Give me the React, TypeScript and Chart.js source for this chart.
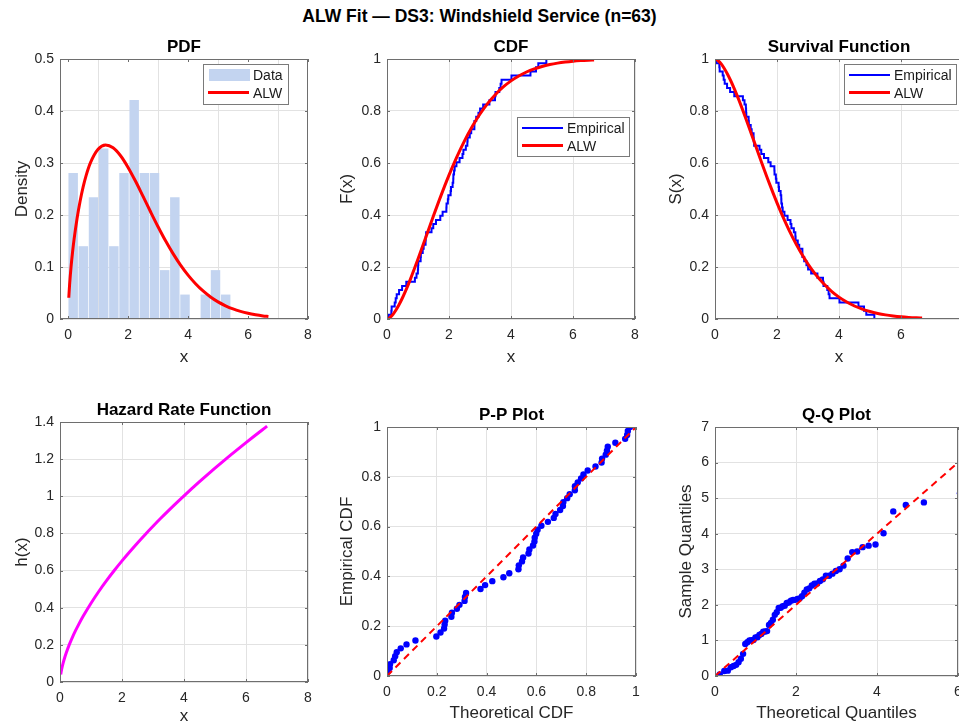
import React, { useEffect, useRef } from 'react';
import { Chart, registerables } from 'chart.js';

Chart.register(...registerables);

const FONT = '"Liberation Sans", Arial, Helvetica, sans-serif';

// ---------- data ----------
const sortedData = [
  0.046, 0.140, 0.150, 0.248, 0.280, 0.313, 0.389, 0.487, 0.622, 0.900,
  0.952, 0.996, 1.003, 1.010, 1.085, 1.092, 1.152, 1.183, 1.244, 1.249,
  1.262, 1.436, 1.492, 1.580, 1.719, 1.794, 1.915, 1.920, 1.963, 1.978,
  2.053, 2.065, 2.117, 2.137, 2.141, 2.163, 2.183, 2.240, 2.341, 2.435,
  2.464, 2.543, 2.592, 2.600, 2.670, 2.717, 2.819, 2.820, 2.878, 2.950,
  3.003, 3.102, 3.304, 3.483, 3.500, 3.622, 3.665, 3.695, 4.015, 4.628,
  4.806, 4.881, 5.140,
];

const histCenters = [0.1695, 0.5085, 0.8475, 1.1865, 1.5255, 1.8645, 2.2035, 2.5425, 2.8815, 3.2205, 3.5595, 3.8985, 4.2375, 4.5765, 4.9155, 5.2545];
const histDensity = [0.281, 0.140, 0.234, 0.328, 0.140, 0.281, 0.421, 0.281, 0.281, 0.094, 0.234, 0.047, 0, 0.047, 0.094, 0.047];

const curveX = [0.023, 0.05, 0.1, 0.15, 0.2, 0.3, 0.4, 0.5, 0.6, 0.75, 1.0, 1.25, 1.5, 1.75, 2.0, 2.25, 2.5, 2.75, 3.0, 3.25, 3.5, 3.75, 4.0, 4.25, 4.5, 4.75, 5.0, 5.25, 5.5, 5.75, 6.0, 6.25, 6.5, 6.68];
const pdfY = [0.0409, 0.0661, 0.1012, 0.1293, 0.1535, 0.1938, 0.2266, 0.2536, 0.2758, 0.3012, 0.3266, 0.3346, 0.3292, 0.3139, 0.2915, 0.2648, 0.2357, 0.2062, 0.1774, 0.1503, 0.1257, 0.1036, 0.0843, 0.0678, 0.0539, 0.0424, 0.0329, 0.0254, 0.0193, 0.0146, 0.0109, 0.0081, 0.0059, 0.0047];
const cdfY = [0.0006, 0.0020, 0.0063, 0.0120, 0.0191, 0.0366, 0.0576, 0.0817, 0.1082, 0.1516, 0.2305, 0.3135, 0.3967, 0.4773, 0.5531, 0.6227, 0.6853, 0.7405, 0.7884, 0.8294, 0.8638, 0.8925, 0.9159, 0.9348, 0.9500, 0.9620, 0.9714, 0.9786, 0.9842, 0.9884, 0.9916, 0.9939, 0.9956, 0.9966];
const survY = [0.9994, 0.9980, 0.9937, 0.9880, 0.9809, 0.9634, 0.9424, 0.9183, 0.8918, 0.8484, 0.7695, 0.6865, 0.6033, 0.5227, 0.4469, 0.3773, 0.3147, 0.2595, 0.2116, 0.1706, 0.1362, 0.1075, 0.0841, 0.0652, 0.0500, 0.0380, 0.0286, 0.0214, 0.0158, 0.0116, 0.0084, 0.0061, 0.0044, 0.0034];
const hazY = [0.0410, 0.0663, 0.1018, 0.1309, 0.1565, 0.2012, 0.2405, 0.2762, 0.3092, 0.3551, 0.4244, 0.4874, 0.5457, 0.6004, 0.6523, 0.7017, 0.7491, 0.7947, 0.8387, 0.8814, 0.9228, 0.9632, 1.0024, 1.0408, 1.0784, 1.1151, 1.1511, 1.1865, 1.2212, 1.2554, 1.2890, 1.3219, 1.3545, 1.3776];

const ppTheoretical = [
  0.0018, 0.0108, 0.0120, 0.0270, 0.0328, 0.0391, 0.0552, 0.0784, 0.1143, 0.1982,
  0.2149, 0.2292, 0.2315, 0.2338, 0.2585, 0.2608, 0.2807, 0.2911, 0.3115, 0.3131,
  0.3175, 0.3756, 0.3940, 0.4229, 0.4675, 0.4910, 0.5279, 0.5294, 0.5422, 0.5466,
  0.5684, 0.5718, 0.5865, 0.5921, 0.5932, 0.5993, 0.6047, 0.6200, 0.6463, 0.6697,
  0.6767, 0.6953, 0.7065, 0.7083, 0.7236, 0.7337, 0.7545, 0.7547, 0.7660, 0.7794,
  0.7890, 0.8060, 0.8374, 0.8617, 0.8638, 0.8785, 0.8833, 0.8866, 0.9171, 0.9565,
  0.9643, 0.9672, 0.9757,
];

const qqTheoretical = [
  0.1157, 0.2292, 0.3158, 0.3907, 0.4586, 0.5218, 0.5816, 0.6387, 0.6938, 0.7473,
  0.7994, 0.8504, 0.9007, 0.9501, 0.9990, 1.0473, 1.0954, 1.1431, 1.1908, 1.2382,
  1.2856, 1.3331, 1.3807, 1.4283, 1.4763, 1.5245, 1.5730, 1.6219, 1.6714, 1.7215,
  1.7720, 1.8231, 1.8750, 1.9278, 1.9813, 2.0360, 2.0917, 2.1485, 2.2068, 2.2663,
  2.3275, 2.3904, 2.4554, 2.5224, 2.5917, 2.6634, 2.7384, 2.8165, 2.8985, 2.9848,
  3.0759, 3.1728, 3.2766, 3.3883, 3.5100, 3.6438, 3.7933, 3.9630, 4.1612, 4.4017,
  4.7110, 5.1580, 6.0476,
];

const ppRefLine = [0, 1];
const qqRefLine = [0, 6.05];

const ticks0to8 = [0, 2, 4, 6, 8];
const pdfYTicks = [0, 0.1, 0.2, 0.3, 0.4, 0.5];
const unitTicks = [0, 0.2, 0.4, 0.6, 0.8, 1];
const hazYTicks = [0, 0.2, 0.4, 0.6, 0.8, 1, 1.2, 1.4];
const qqXTicks = [0, 2, 4, 6];
const qqYTicks = [0, 1, 2, 3, 4, 5, 6, 7];

// ---------- derived tables ----------
const n = sortedData.length;
const pts = (xs: number[], ys: number[]) => xs.map((x, i) => ({ x, y: ys[i] }));
const ecdfPts = [{ x: sortedData[0], y: 0 }, ...sortedData.map((x, i) => ({ x, y: (i + 1) / n }))];
const esurvPts = ecdfPts.map((p) => ({ x: p.x, y: 1 - p.y }));
const ppPts = ppTheoretical.map((x, i) => ({ x, y: (i + 1) / n }));
const qqPts = qqTheoretical.map((x, i) => ({ x, y: sortedData[i] }));

const RED = '#ff0000';
const BLUE = '#0000ff';
const MAGENTA = '#ff00ff';
const BAR = '#c3d4f0';

type LegendItem = { label: string; color: string; kind: 'line' | 'patch'; width?: number };
type Legend = { x: number; y: number; w: number; h: number; items: LegendItem[] };
type Panel = {
  key: string;
  box: { l: number; t: number; r: number; b: number };
  xMin: number; xMax: number; yMin: number; yMax: number;
  xTicks: number[]; yTicks: number[];
  title: string; xLabel: string; yLabel: string;
  xLabelBaseline: number; yLabelX: number;
  legend?: Legend;
  datasets: any[];
};

const curve = (ys: number[], color: string) => ({
  type: 'line', data: pts(curveX, ys), borderColor: color, backgroundColor: color,
  borderWidth: 3, pointRadius: 0, fill: false, showLine: true,
  cubicInterpolationMode: 'monotone', order: 0,
});

const panels: Panel[] = [
  {
    key: 'pdf', box: { l: 60, t: 59, r: 308, b: 319 },
    xMin: -0.27, xMax: 8, yMin: 0, yMax: 0.5, xTicks: ticks0to8, yTicks: pdfYTicks,
    title: 'PDF', xLabel: 'x', yLabel: 'Density', xLabelBaseline: 362, yLabelX: 22,
    legend: { x: 203, y: 64, w: 85, h: 40, items: [
      { label: 'Data', color: BAR, kind: 'patch' },
      { label: 'ALW', color: RED, kind: 'line', width: 3 },
    ] },
    datasets: [
      { type: 'bar', data: pts(histCenters, histDensity), backgroundColor: BAR, borderWidth: 0,
        barPercentage: 0.93, categoryPercentage: 1, order: 2 },
      curve(pdfY, RED),
    ],
  },
  {
    key: 'cdf', box: { l: 387, t: 59, r: 635, b: 319 },
    xMin: 0, xMax: 8, yMin: 0, yMax: 1, xTicks: ticks0to8, yTicks: unitTicks,
    title: 'CDF', xLabel: 'x', yLabel: 'F(x)', xLabelBaseline: 362, yLabelX: 347,
    legend: { x: 517, y: 117, w: 112, h: 39, items: [
      { label: 'Empirical', color: BLUE, kind: 'line', width: 2 },
      { label: 'ALW', color: RED, kind: 'line', width: 3 },
    ] },
    datasets: [
      { type: 'line', data: ecdfPts, stepped: true, borderColor: BLUE, borderWidth: 2, pointRadius: 0, fill: false, showLine: true, order: 1 },
      curve(cdfY, RED),
    ],
  },
  {
    key: 'surv', box: { l: 715, t: 59, r: 963, b: 319 },
    xMin: 0, xMax: 8, yMin: 0, yMax: 1, xTicks: ticks0to8, yTicks: unitTicks,
    title: 'Survival Function', xLabel: 'x', yLabel: 'S(x)', xLabelBaseline: 362, yLabelX: 676,
    legend: { x: 844, y: 64, w: 112, h: 40, items: [
      { label: 'Empirical', color: BLUE, kind: 'line', width: 2 },
      { label: 'ALW', color: RED, kind: 'line', width: 3 },
    ] },
    datasets: [
      { type: 'line', data: esurvPts, stepped: true, borderColor: BLUE, borderWidth: 2, pointRadius: 0, fill: false, showLine: true, order: 1 },
      curve(survY, RED),
    ],
  },
  {
    key: 'haz', box: { l: 60, t: 422, r: 308, b: 682 },
    xMin: 0, xMax: 8, yMin: 0, yMax: 1.4, xTicks: ticks0to8, yTicks: hazYTicks,
    title: 'Hazard Rate Function', xLabel: 'x', yLabel: 'h(x)', xLabelBaseline: 721, yLabelX: 22,
    datasets: [curve(hazY, MAGENTA)],
  },
  {
    key: 'pp', box: { l: 387, t: 427, r: 636, b: 676 },
    xMin: 0, xMax: 1, yMin: 0, yMax: 1, xTicks: unitTicks, yTicks: unitTicks,
    title: 'P-P Plot', xLabel: 'Theoretical CDF', yLabel: 'Empirical CDF', xLabelBaseline: 718, yLabelX: 347,
    datasets: [
      { type: 'line', data: pts(ppRefLine, ppRefLine), borderColor: RED, borderWidth: 2, borderDash: [7, 5], pointRadius: 0, fill: false, showLine: true, order: 0 },
      { type: 'scatter', data: ppPts, backgroundColor: BLUE, borderColor: BLUE, borderWidth: 0, pointRadius: 3.2, order: 1 },
    ],
  },
  {
    key: 'qq', box: { l: 715, t: 427, r: 958, b: 676 },
    xMin: 0, xMax: 6, yMin: 0, yMax: 7, xTicks: qqXTicks, yTicks: qqYTicks,
    title: 'Q-Q Plot', xLabel: 'Theoretical Quantiles', yLabel: 'Sample Quantiles', xLabelBaseline: 718, yLabelX: 686,
    datasets: [
      { type: 'line', data: pts(qqRefLine, qqRefLine), borderColor: RED, borderWidth: 2, borderDash: [7, 5], pointRadius: 0, fill: false, showLine: true, order: 0 },
      { type: 'scatter', data: qqPts, backgroundColor: BLUE, borderColor: BLUE, borderWidth: 0, pointRadius: 3.2, order: 1 },
    ],
  },
];

const ML = 60, MT = 45, MR = 12, MB = 50;

function scaleOpts(tickVals: number[], min: number, max: number, axis: 'x' | 'y', size: number) {
  return {
    type: 'linear', min, max, offset: false,
    grid: { color: '#e2e2e2', lineWidth: 1, drawTicks: false },
    border: { display: false },
    ticks: {
      color: '#262626', font: { family: FONT, size: 14 }, padding: axis === 'x' ? 8 : 6,
      autoSkip: false, maxRotation: 0, minRotation: 0,
      callback: (v: number) => String(v),
    },
    afterBuildTicks: (s: any) => { s.ticks = tickVals.map((v) => ({ value: v })); },
    afterFit: (s: any) => {
      if (axis === 'x') s.height = size; else s.width = size;
      s.paddingLeft = 0; s.paddingRight = 0; s.paddingTop = 0; s.paddingBottom = 0;
    },
  };
}

function PanelChart({ p }: { p: Panel }) {
  const ref = useRef<HTMLCanvasElement>(null);
  const bw = p.box.r - p.box.l;
  const bh = p.box.b - p.box.t;
  const W = bw + ML + MR;
  const H = bh + MT + MB;
  const ox = p.box.l - ML;
  const oy = p.box.t - MT;

  useEffect(() => {
    const decor = {
      id: 'decor_' + p.key,
      afterDraw(chart: any) {
        const ctx = chart.ctx as CanvasRenderingContext2D;
        const a = chart.chartArea;
        const xs = chart.scales.x;
        const ys = chart.scales.y;
        ctx.save();
        // axes box
        ctx.strokeStyle = '#6e6e6e';
        ctx.lineWidth = 1;
        ctx.strokeRect(Math.round(a.left) + 0.5, Math.round(a.top) + 0.5, Math.round(a.right - a.left) - 1, Math.round(a.bottom - a.top) - 1);
        // inward tick marks
        ctx.beginPath();
        p.xTicks.forEach((v) => {
          const px = Math.round(xs.getPixelForValue(v)) + 0.5;
          ctx.moveTo(px, a.bottom); ctx.lineTo(px, a.bottom - 3);
          ctx.moveTo(px, a.top); ctx.lineTo(px, a.top + 3);
        });
        p.yTicks.forEach((v) => {
          const py = Math.round(ys.getPixelForValue(v)) + 0.5;
          ctx.moveTo(a.left, py); ctx.lineTo(a.left + 3, py);
          ctx.moveTo(a.right, py); ctx.lineTo(a.right - 3, py);
        });
        ctx.stroke();
        // title
        ctx.fillStyle = '#000';
        ctx.font = `bold 17px ${FONT}`;
        ctx.textAlign = 'center';
        ctx.textBaseline = 'alphabetic';
        ctx.fillText(p.title, (a.left + a.right) / 2, a.top - 7);
        // x label
        ctx.fillStyle = '#262626';
        ctx.font = `17px ${FONT}`;
        ctx.fillText(p.xLabel, (a.left + a.right) / 2, p.xLabelBaseline - oy);
        // y label
        ctx.save();
        ctx.translate(p.yLabelX - ox, (a.top + a.bottom) / 2);
        ctx.rotate(-Math.PI / 2);
        ctx.textBaseline = 'middle';
        ctx.fillText(p.yLabel, 0, 0);
        ctx.restore();
        // legend
        if (p.legend) {
          const L = p.legend;
          const lx = L.x - ox, ly = L.y - oy;
          ctx.fillStyle = '#fff';
          ctx.fillRect(lx, ly, L.w, L.h);
          ctx.strokeStyle = '#7a7a7a';
          ctx.lineWidth = 1;
          ctx.strokeRect(lx + 0.5, ly + 0.5, L.w, L.h);
          L.items.forEach((it, k) => {
            const ry = ly + 11 + k * 17.6;
            if (it.kind === 'patch') {
              ctx.fillStyle = it.color;
              ctx.fillRect(lx + 6, ry - 6, 41, 12);
            } else {
              ctx.strokeStyle = it.color;
              ctx.lineWidth = it.width || 2;
              ctx.beginPath();
              ctx.moveTo(lx + 5, ry);
              ctx.lineTo(lx + 46, ry);
              ctx.stroke();
            }
            ctx.fillStyle = '#1a1a1a';
            ctx.font = `14px ${FONT}`;
            ctx.textAlign = 'left';
            ctx.textBaseline = 'alphabetic';
            ctx.fillText(it.label, lx + 50, ry + 5);
          });
        }
        ctx.restore();
      },
    };

    const chart = new Chart(ref.current as HTMLCanvasElement, {
      type: 'scatter',
      data: { datasets: p.datasets } as any,
      options: {
        animation: false,
        responsive: false,
        maintainAspectRatio: false,
        devicePixelRatio: 1,
        events: [],
        layout: { padding: { left: 0, top: MT, right: MR, bottom: 0 } },
        plugins: { legend: { display: false }, tooltip: { enabled: false }, title: { display: false } },
        scales: {
          x: scaleOpts(p.xTicks, p.xMin, p.xMax, 'x', MB),
          y: scaleOpts(p.yTicks, p.yMin, p.yMax, 'y', ML),
        } as any,
      } as any,
      plugins: [decor],
    });
    return () => chart.destroy();
  }, []);

  return (
    <canvas
      ref={ref}
      width={W}
      height={H}
      style={{ position: 'absolute', left: ox, top: oy, width: W, height: H }}
    />
  );
}

export default function App() {
  return (
    <div style={{ position: 'fixed', left: 0, top: 0, width: 959, height: 727, overflow: 'hidden', background: '#fff' }}>
      <div
        style={{
          position: 'absolute', left: 0, top: 8, width: 959, textAlign: 'center',
          font: `bold 17.5px ${FONT}`, lineHeight: '17px', color: '#000', whiteSpace: 'nowrap',
        }}
      >
        ALW Fit — DS3: Windshield Service (n=63)
      </div>
      {panels.map((p) => (
        <PanelChart key={p.key} p={p} />
      ))}
    </div>
  );
}
